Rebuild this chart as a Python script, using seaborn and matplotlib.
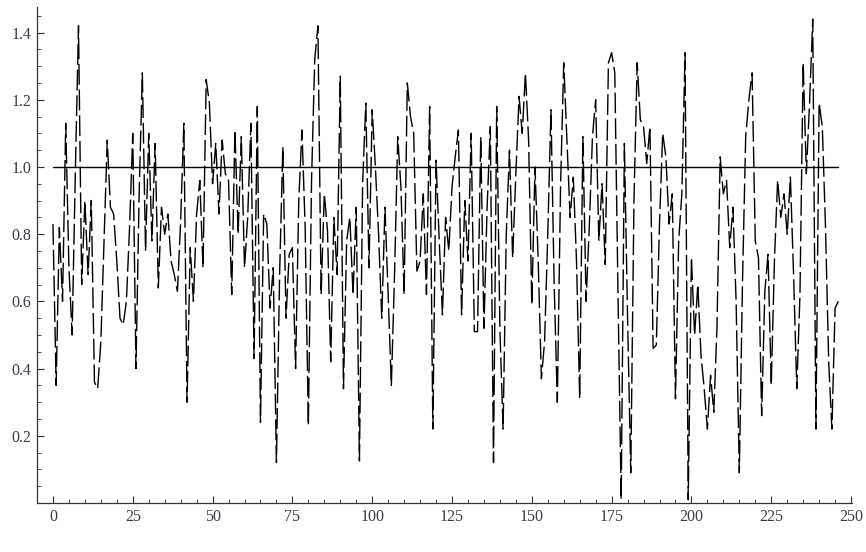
import matplotlib
matplotlib.use("Agg")
import matplotlib.pyplot as plt
from matplotlib.ticker import MultipleLocator
import numpy as np
import pandas as pd
import seaborn as sns

# Ratio series, one value per step
ratio = [
    0.83, 0.35, 0.82, 0.60, 1.13, 0.70, 0.50, 0.98, 1.42, 0.65,
    0.90, 0.68, 0.90, 0.36, 0.34, 0.48, 0.78, 1.08, 0.88, 0.86,
    0.72, 0.55, 0.53, 0.60, 0.82, 1.10, 0.40, 0.92, 1.28, 0.75,
    1.10, 0.78, 1.07, 0.64, 0.88, 0.80, 0.86, 0.72, 0.68, 0.63,
    0.84, 1.13, 0.30, 0.76, 0.60, 0.86, 0.96, 0.70, 1.26, 1.19,
    0.95, 1.07, 0.86, 1.08, 0.98, 0.96, 0.62, 1.11, 0.80, 1.09,
    0.70, 0.85, 1.13, 0.43, 1.18, 0.24, 0.86, 0.83, 0.58, 0.70,
    0.12, 0.68, 1.06, 0.55, 0.74, 0.76, 0.40, 0.90, 1.11, 0.82,
    0.23, 0.96, 1.32, 1.42, 0.62, 0.92, 0.81, 0.42, 0.85, 0.68,
    1.27, 0.34, 0.78, 0.85, 0.62, 0.88, 0.125, 0.95, 1.19, 0.70,
    1.17, 1.00, 0.80, 0.55, 0.88, 0.62, 0.35, 0.68, 1.09, 0.94,
    0.62, 1.25, 1.15, 1.10, 0.69, 0.72, 0.92, 0.62, 1.18, 0.22,
    1.02, 0.78, 0.56, 0.85, 0.75, 0.94, 1.03, 1.11, 0.56, 0.90,
    0.72, 1.10, 0.51, 0.51, 1.09, 0.52, 0.88, 1.12, 0.12, 1.18,
    0.52, 0.22, 0.80, 1.05, 0.73, 0.98, 1.21, 1.10, 1.28, 1.08,
    0.59, 1.00, 0.72, 0.37, 0.48, 0.80, 1.17, 0.65, 0.30, 0.94,
    1.31, 1.08, 0.85, 0.97, 0.72, 0.31, 1.09, 0.60, 0.82, 1.09,
    1.20, 0.78, 0.95, 0.71, 1.31, 1.34, 1.28, 0.62, 0.01, 1.07,
    0.55, 0.09, 0.90, 1.31, 1.14, 1.12, 1.01, 1.12, 0.46, 0.47,
    0.83, 1.10, 1.03, 0.83, 0.92, 0.31, 0.78, 0.92, 1.34, 0.01,
    0.73, 0.50, 0.65, 0.44, 0.34, 0.22, 0.38, 0.27, 0.52, 1.03,
    0.92, 0.96, 0.76, 0.88, 0.60, 0.09, 0.66, 1.09, 1.20, 1.28,
    0.78, 0.73, 0.26, 0.63, 0.74, 0.35, 0.72, 0.96, 0.85, 0.92,
    0.80, 0.97, 0.68, 0.34, 0.62, 1.31, 0.98, 1.19, 1.44, 0.22,
    1.19, 1.12, 0.82, 0.42, 0.22, 0.58, 0.60,
]
step = list(range(len(ratio)))

# Reference level
ref_level = 1.0
ref_span = [step[0], step[-1]]

x_ticks = [0, 25, 50, 75, 100, 125, 150, 175, 200, 225, 250]
y_ticks = [0.2, 0.4, 0.6, 0.8, 1.0, 1.2, 1.4]

sns.set_style("white")
plt.rcParams["font.family"] = ["Liberation Serif", "DejaVu Serif"]

W, H = 866, 552
fig = plt.figure(figsize=(W / 100, H / 100), dpi=100)
ax = fig.add_axes([37 / W, (H - 503) / H, (852 - 37) / W, (503 - 7) / H])

series = pd.DataFrame({"step": step, "ratio": ratio})
ref = pd.DataFrame({"step": ref_span, "ratio": [ref_level, ref_level]})

sns.lineplot(data=series, x="step", y="ratio", ax=ax, color="black",
             linewidth=1.0, errorbar=None, sort=False,
             linestyle=(0, (15, 3.5)))
sns.lineplot(data=ref, x="step", y="ratio", ax=ax, color="black",
             linewidth=1.0, errorbar=None)

ax.set_xlim(-5, 250.3)
ax.set_ylim(0, 1.476)
ax.set_xlabel("")
ax.set_ylabel("")

ax.set_xticks(x_ticks)
ax.set_yticks(y_ticks)
ax.set_xticklabels([str(t) for t in x_ticks])
ax.set_yticklabels([f"{t:.1f}" for t in y_ticks])
ax.xaxis.set_minor_locator(MultipleLocator(5))
ax.yaxis.set_minor_locator(MultipleLocator(0.05))

axis_color = "#333333"
for side in ("top", "right"):
    ax.spines[side].set_visible(False)
for side in ("left", "bottom"):
    ax.spines[side].set_color(axis_color)
    ax.spines[side].set_linewidth(0.9)

ax.tick_params(which="both", bottom=True, left=True, top=False, right=False)
ax.tick_params(which="major", direction="in", length=5, width=0.8,
               color=axis_color, labelsize=11.5, labelcolor="#3a3a46", pad=4)
ax.tick_params(which="minor", direction="in", length=3, width=0.6,
               color=axis_color)
ax.grid(False)

fig.savefig("out.png", dpi=100)
